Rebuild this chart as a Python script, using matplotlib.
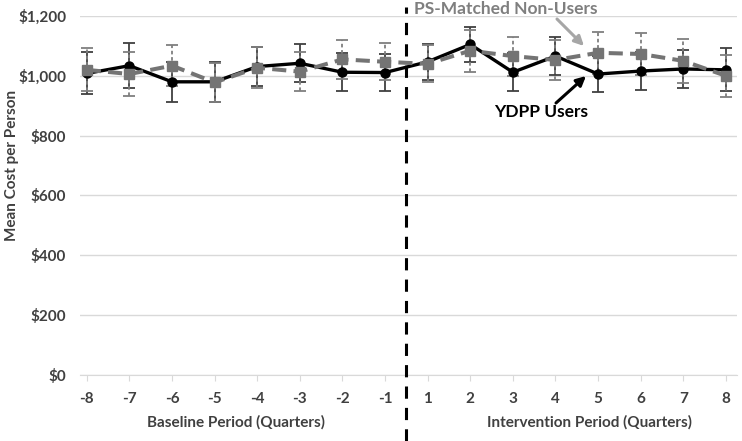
import numpy as np
import matplotlib.pyplot as plt
from matplotlib.transforms import blended_transform_factory

plt.rcParams['font.family'] = ['Lato', 'DejaVu Sans']

# quarters relative to intervention start (no quarter 0)
quarters = ['-8', '-7', '-6', '-5', '-4', '-3', '-2', '-1',
            '1', '2', '3', '4', '5', '6', '7', '8']

# mean cost per person
ydpp_users = [1008, 1034, 980, 980, 1031, 1042, 1012, 1011,
              1047, 1105, 1012, 1066, 1006, 1016, 1023, 1020]
ydpp_err = [70, 75, 66, 67, 66, 63, 63, 62,
            60, 59, 63, 63, 61, 63, 65, 72]

ps_nonusers = [1020, 1006, 1034, 978, 1027, 1014, 1055, 1047,
               1040, 1084, 1066, 1053, 1077, 1073, 1050, 1000]
ps_err = [72, 72, 69, 64, 68, 65, 65, 62,
          62, 70, 65, 67, 71, 69, 73, 70]

yticks = [0, 200, 400, 600, 800, 1000, 1200]

x = np.arange(len(quarters))

fig = plt.figure(figsize=(7.42, 4.41), dpi=100)
ax = fig.add_axes([80/742, 1-375/441, (737-80)/742, (375-16)/441])

# error bars first, then the lines on top
ax.errorbar(x, ydpp_users, yerr=ydpp_err, fmt='none', ecolor='#404040',
            elinewidth=1.3, capsize=4, capthick=1.3, zorder=2)
eb = ax.errorbar(x, ps_nonusers, yerr=ps_err, fmt='none', ecolor='#7f7f7f',
                 elinewidth=1.3, capsize=4, capthick=1.3, zorder=2)
for col in eb[2]:
    col.set_linestyle((0, (2, 1.5)))

ax.plot(x, ydpp_users, color='black', lw=2.4, marker='o', ms=6.5, zorder=4)
ax.plot(x, ps_nonusers, color='#747474', lw=2.9, ls=(0, (3.5, 1.8)),
        marker='s', ms=7, zorder=5)

ax.set_ylim(0, 1200)
ax.set_xlim(-0.16, 15.26)
ax.set_yticks(yticks)
ax.set_yticklabels(['${:,}'.format(v) for v in yticks])
ax.set_xticks(x)
ax.set_xticklabels(quarters)
ax.yaxis.grid(True, color='#d9d9d9', lw=1)
ax.set_axisbelow(True)
for s in ['top', 'right', 'left']:
    ax.spines[s].set_visible(False)
ax.spines['bottom'].set_color('#d9d9d9')
ax.tick_params(axis='y', length=0, pad=10, labelsize=11, labelcolor='#404040')
ax.tick_params(axis='x', length=4, color='#d9d9d9', pad=8, labelsize=11,
               labelcolor='#404040')
for lab in ax.get_xticklabels() + ax.get_yticklabels():
    lab.set_fontweight('bold')

fig.text(12/742, 1-165/441, 'Mean Cost per Person', rotation=90, ha='center',
         va='center', fontsize=11, fontweight='bold', color='#404040')

# period labels under the quarter ticks
trans = blended_transform_factory(ax.transData, fig.transFigure)
ax.text(3.5, 1-422/441, 'Baseline Period (Quarters)', transform=trans,
        ha='center', va='center', fontsize=11, fontweight='bold', color='#404040')
ax.text(11.8, 1-422/441, 'Intervention Period (Quarters)', transform=trans,
        ha='center', va='center', fontsize=11, fontweight='bold', color='#404040')

# dashed divider between baseline and intervention
ax.plot([7.5, 7.5], [0, 0.985], transform=trans, color='black', lw=2.2,
        ls=(0, (4, 3)), clip_on=False, zorder=6)

# callouts
fig.text(506/742, 1-9/441, 'PS-Matched Non-Users', ha='center', va='center',
         fontsize=12.5, fontweight='bold', color='#7f7f7f')
fig.text(541/742, 1-112/441, 'YDPP Users', ha='center', va='center',
         fontsize=12.5, fontweight='bold', color='black')
ax.annotate('', xy=(584, 441-46), xycoords='figure pixels',
            xytext=(557, 441-19), textcoords='figure pixels',
            arrowprops=dict(arrowstyle='-|>', color='#a6a6a6', lw=2.2,
                            shrinkA=0, shrinkB=0, mutation_scale=14))
ax.annotate('', xy=(586, 441-76), xycoords='figure pixels',
            xytext=(556, 441-103), textcoords='figure pixels',
            arrowprops=dict(arrowstyle='-|>', color='black', lw=2.2,
                            shrinkA=0, shrinkB=0, mutation_scale=14))

fig.savefig('out.png', dpi=100)
